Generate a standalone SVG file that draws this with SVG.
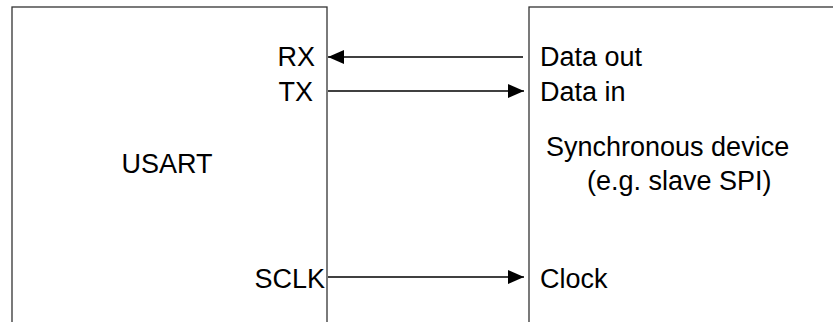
<svg xmlns="http://www.w3.org/2000/svg" width="833" height="322" viewBox="0 0 833 322">
<style>
.box{fill:#fff;stroke:#333;stroke-width:1.3}
.t{font-family:"Liberation Sans",Arial,sans-serif;font-size:27px;fill:#000}
.w{stroke:#000;stroke-width:1.3;fill:none}
</style>
<defs>
<marker id="ah" viewBox="0 0 16 16" refX="16" refY="8" markerWidth="16" markerHeight="16" markerUnits="userSpaceOnUse" orient="auto">
<path d="M0,1 L16,8 L0,15 Z" fill="#000"/>
</marker>
</defs>
<rect width="833" height="322" fill="#fff"/>
<g id="usart">
<rect class="box" x="12" y="7" width="315" height="330"/>
<text class="t" x="167" y="173" text-anchor="middle">USART</text>
<text class="t" x="315" y="66" text-anchor="end">RX</text>
<text class="t" x="313" y="101" text-anchor="end">TX</text>
<text class="t" x="325" y="288" text-anchor="end">SCLK</text>
</g>
<g id="device">
<rect class="box" x="529" y="7" width="330" height="330"/>
<text class="t" x="540" y="66">Data out</text>
<text class="t" x="540" y="101">Data in</text>
<text class="t" x="546" y="156">Synchronous device</text>
<text class="t" x="587" y="190">(e.g. slave SPI)</text>
<text class="t" x="540" y="288">Clock</text>
</g>
<g id="connectors">
<line class="w" x1="523" y1="57" x2="328" y2="57" marker-end="url(#ah)"/>
<line class="w" x1="328" y1="91" x2="524" y2="91" marker-end="url(#ah)"/>
<line class="w" x1="328" y1="277" x2="524" y2="277" marker-end="url(#ah)"/>
</g>
</svg>
